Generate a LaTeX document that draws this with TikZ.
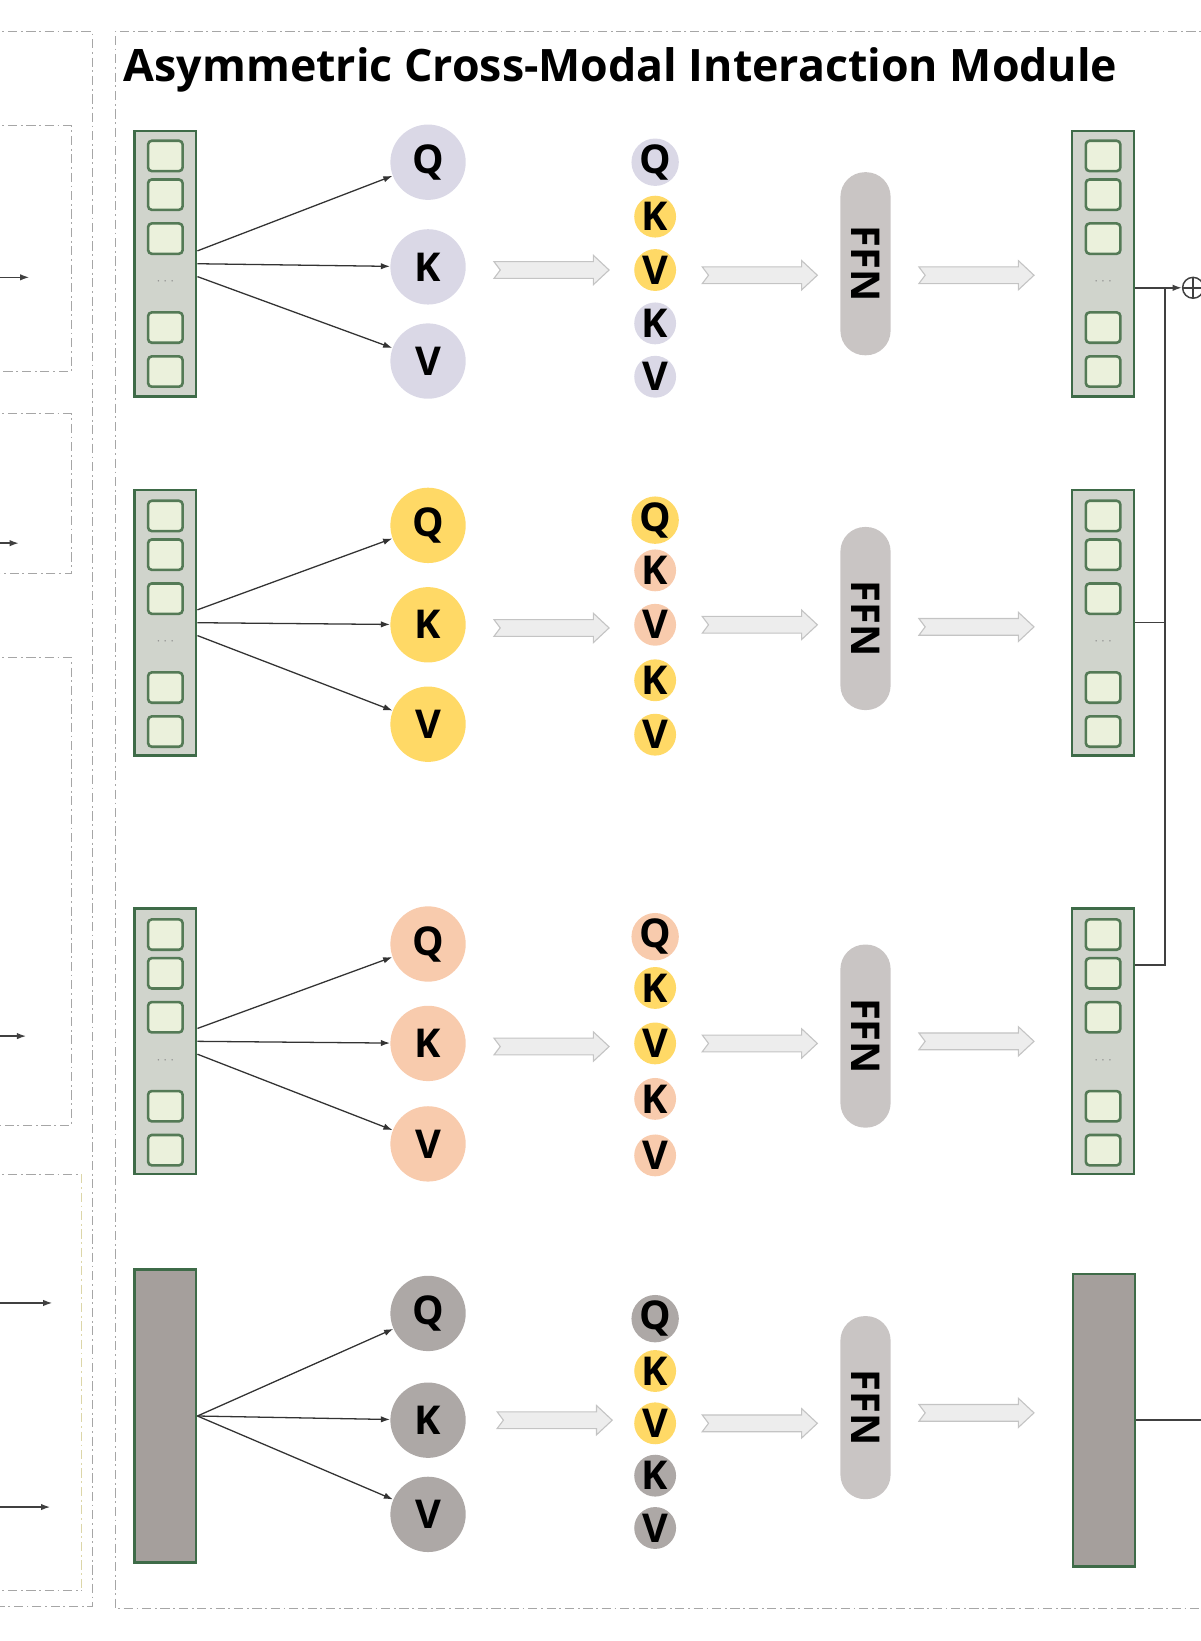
\documentclass[tikz,border=0pt]{standalone}
\usepackage{fontspec}
\setmainfont{Open Sans}
\usetikzlibrary{arrows.meta}

\definecolor{lav}{HTML}{DAD8E6}
\definecolor{gold}{HTML}{FFD966}
\definecolor{peach}{HTML}{F8CBAD}
\definecolor{stone}{HTML}{ADA8A6}
\definecolor{vecgreen}{HTML}{3E6B48}
\definecolor{vecfill}{HTML}{D0D4CC}
\definecolor{cellfill}{HTML}{EBF1DC}
\definecolor{cellline}{HTML}{547A56}
\definecolor{barfill}{HTML}{A59F9C}
\definecolor{ffnfill}{HTML}{C9C5C4}
\definecolor{arrowfill}{HTML}{EDEDED}
\definecolor{arrowline}{HTML}{C4C4C4}
\definecolor{panel}{HTML}{A6A6A6}
\definecolor{panelyel}{HTML}{DCD6A8}

\tikzset{
  fatarrow/.pic={
    \draw[draw=arrowline, fill=arrowfill, line width=0.6pt]
      (-55,-8) -- (-49,0) -- (-55,8) -- (40,8) -- (40,14) -- (55,0)
      -- (40,-14) -- (40,-8) -- cycle;
  }
}

\begin{document}
\begin{tikzpicture}[x=0.02cm, y=-0.02cm, >={Latex[length=5pt,width=3.5pt]},
  letter/.style={font=\bfseries\fontsize{21.6}{22}\selectfont},
  vecbox/.style={draw=vecgreen, line width=1.3pt, fill=vecfill,
    minimum width=1.18cm, minimum height=5.08cm, inner sep=0pt},
  cellbox/.style={draw=cellline, line width=1.4pt, fill=cellfill, rounded corners=2pt,
    minimum width=0.66cm, minimum height=0.58cm, inner sep=0pt},
  dotsbox/.style={font=\fontsize{7}{7}\selectfont, text=black!45, inner sep=0pt},
  barbox/.style={draw=vecgreen, line width=1.3pt, fill=barfill,
    minimum width=1.18cm, minimum height=5.6cm, inner sep=0pt},
  qkv/.style={circle, minimum size=1.44cm, inner sep=0pt, letter},
  tok/.style={circle, minimum size=0.8cm, inner sep=0pt, letter},
  ffnbox/.style={fill=ffnfill, rounded corners=0.47cm, minimum width=3.5cm,
    minimum height=0.96cm, rotate=-90, letter},
  panelline/.style={draw=panel, line width=0.5pt, dash pattern=on 5pt off 2pt on 1pt off 2pt},
  feed/.style={draw=black!80, line width=0.7pt, ->},
  link/.style={draw=black!75, line width=0.8pt}]

  \useasboundingbox (0,0) rectangle (1147,1568);

  % Panels
  \draw[panelline] (-10,30) -- (88,30) -- (88,1535) -- (-10,1535);
  \draw[panelline] (-10,120) -- (68,120) -- (68,355) -- (-10,355);
  \draw[panelline] (-10,395) -- (68,395) -- (68,548) -- (-10,548);
  \draw[panelline] (-10,628) -- (68,628) -- (68,1075) -- (-10,1075);
  \draw[panelline] (-10,1122) -- (78,1122);
  \draw[panelline] (-10,1520) -- (78,1520);
  \draw[panelline, draw=panelyel] (78,1122) -- (78,1520);
  \draw[panelline] (1160,30) -- (110,30) -- (110,1537) -- (1160,1537);

  \node[anchor=base west, inner sep=0pt, font=\bfseries\fontsize{24.3}{26}\selectfont]
    (title) at (118,78) {Asymmetric Cross-Modal Interaction Module};

  % Incoming arrows
  \coordinate (l1a) at (-10,265);  \coordinate (l1b) at (28,265);
  \coordinate (l2a) at (-10,519);  \coordinate (l2b) at (18,519);
  \coordinate (l3a) at (-10,990);  \coordinate (l3b) at (25,990);
  \coordinate (l4a) at (-10,1245); \coordinate (l4b) at (50,1245);
  \coordinate (l5a) at (-10,1440); \coordinate (l5b) at (48,1440);
  \draw[link,->] (l1a) -- (l1b);
  \draw[link,->] (l2a) -- (l2b);
  \draw[link,->] (l3a) -- (l3b);
  \draw[link,->] (l4a) -- (l4b);
  \draw[link,->] (l5a) -- (l5b);

  % Row 1
  \node[vecbox] (in1) at (158,252) {};
  \node[qkv, fill=lav] (q1) at (409,155) {Q};
  \node[qkv, fill=lav] (k1) at (409,255) {K};
  \node[qkv, fill=lav] (v1) at (409,345) {V};
  \pic at (527,258) {fatarrow};
  \node[tok, fill=lav] (sq1) at (626,155) {Q};
  \node[tok, fill=gold] (sk1) at (626,207) {K};
  \node[tok, fill=gold] (sv1) at (626,258) {V};
  \node[tok, fill=lav] (sk1b) at (626,309) {K};
  \node[tok, fill=lav] (sv1b) at (626,360) {V};
  \pic at (726,263) {fatarrow};
  \node[ffnbox] (ffn1) at (827,252) {FFN};
  \pic at (933,263) {fatarrow};
  \node[vecbox] (out1) at (1054,252) {};
  \draw[feed] ([yshift=7pt]in1.east) -- (q1);
  \draw[feed] (in1.east) -- (k1);
  \draw[feed] ([yshift=-7pt]in1.east) -- (v1);

  % Row 2
  \node[vecbox] (in2) at (158,595) {};
  \node[qkv, fill=gold] (q2) at (409,502) {Q};
  \node[qkv, fill=gold] (k2) at (409,597) {K};
  \node[qkv, fill=gold] (v2) at (409,692) {V};
  \pic at (527,600) {fatarrow};
  \node[tok, fill=gold] (sq2) at (626,497) {Q};
  \node[tok, fill=peach] (sk2) at (626,545) {K};
  \node[tok, fill=peach] (sv2) at (626,597) {V};
  \node[tok, fill=gold] (sk2b) at (626,650) {K};
  \node[tok, fill=gold] (sv2b) at (626,702) {V};
  \pic at (726,597) {fatarrow};
  \node[ffnbox] (ffn2) at (827,591) {FFN};
  \pic at (933,599) {fatarrow};
  \node[vecbox] (out2) at (1054,595) {};
  \draw[feed] ([yshift=7pt]in2.east) -- (q2);
  \draw[feed] (in2.east) -- (k2);
  \draw[feed] ([yshift=-7pt]in2.east) -- (v2);

  % Row 3
  \node[vecbox] (in3) at (158,995) {};
  \node[qkv, fill=peach] (q3) at (409,902) {Q};
  \node[qkv, fill=peach] (k3) at (409,997) {K};
  \node[qkv, fill=peach] (v3) at (409,1093) {V};
  \pic at (527,1000) {fatarrow};
  \node[tok, fill=peach] (sq3) at (626,895) {Q};
  \node[tok, fill=gold] (sk3) at (626,944) {K};
  \node[tok, fill=gold] (sv3) at (626,997) {V};
  \node[tok, fill=peach] (sk3b) at (626,1050) {K};
  \node[tok, fill=peach] (sv3b) at (626,1104) {V};
  \pic at (726,997) {fatarrow};
  \node[ffnbox] (ffn3) at (827,990) {FFN};
  \pic at (933,995) {fatarrow};
  \node[vecbox] (out3) at (1054,995) {};
  \draw[feed] ([yshift=7pt]in3.east) -- (q3);
  \draw[feed] (in3.east) -- (k3);
  \draw[feed] ([yshift=-7pt]in3.east) -- (v3);

  % Row 4
  \node[barbox] (in4) at (158,1353) {};
  \node[qkv, fill=stone] (q4) at (409,1255) {Q};
  \node[qkv, fill=stone] (k4) at (409,1357) {K};
  \node[qkv, fill=stone] (v4) at (409,1447) {V};
  \pic at (530,1357) {fatarrow};
  \node[tok, fill=stone] (sq4) at (626,1260) {Q};
  \node[tok, fill=gold] (sk4) at (626,1310) {K};
  \node[tok, fill=gold] (sv4) at (626,1360) {V};
  \node[tok, fill=stone] (sk4b) at (626,1410) {K};
  \node[tok, fill=stone] (sv4b) at (626,1460) {V};
  \pic at (726,1360) {fatarrow};
  \node[ffnbox] (ffn4) at (827,1345) {FFN};
  \pic at (933,1350) {fatarrow};
  \node[barbox] (out4) at (1055,1357) {};
  \draw[feed] (in4.east) -- (q4);
  \draw[feed] (in4.east) -- (k4);
  \draw[feed] (in4.east) -- (v4);

  % Cells of the token vectors
  \foreach \r/\t in {1/124, 2/468, 3/868} {
    \foreach \dy in {25, 62, 104, 189, 231} {
      \node[cellbox] (ci\r-\dy) at (158,\t+\dy) {};
      \node[cellbox] (co\r-\dy) at (1054,\t+\dy) {};
    }
    \node[dotsbox] (di\r) at (158,\t+145) {$\cdots$};
    \node[dotsbox] (do\r) at (1054,\t+145) {$\cdots$};
  }

  % Fusion
  \node[circle, draw=black!75, line width=0.8pt, minimum size=0.4cm, inner sep=0pt] (sum) at (1140,275) {};
  \draw[link] (sum.north) -- (sum.south) (sum.west) -- (sum.east);
  \coordinate (j1) at (1113,275);
  \coordinate (j3) at (1113,922);
  \coordinate (r4) at (1160,1357);
  \draw[link,->] (out1.east |- sum) -- (sum);
  \draw[link] (j1) -- (j3) -- (out3.east |- j3);
  \draw[link] (out2.east) -- (out2.east -| j1);
  \draw[link] (out4.east) -- (r4);

\end{tikzpicture}
\end{document}
